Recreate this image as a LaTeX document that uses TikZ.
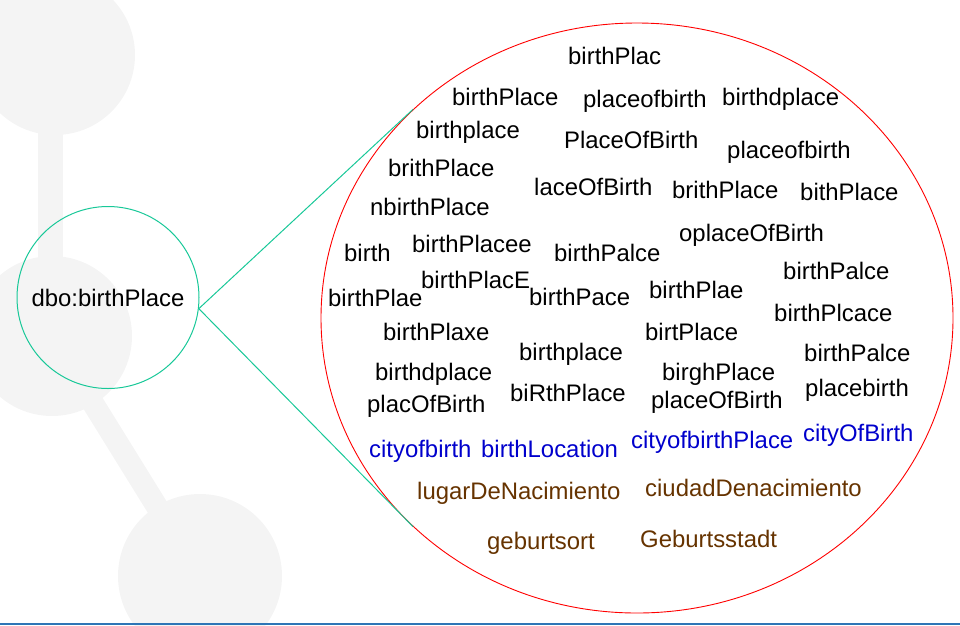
\documentclass[tikz,border=0pt]{standalone}
\usepackage{fontspec}
\setmainfont{Liberation Sans}
\usepackage{xcolor}
\usetikzlibrary{shapes.geometric, positioning}

\definecolor{bggray}{RGB}{244,244,244}
\definecolor{propteal}{RGB}{24,200,152}
\definecolor{cityblue}{RGB}{0,0,204}
\definecolor{spanbrown}{RGB}{102,51,0}
\definecolor{rulebl}{RGB}{46,117,182}

\begin{document}
\begin{tikzpicture}[x=1pt, y=-1pt,
        word/.style={anchor=base west, inner sep=0pt, font=\fontsize{23.9}{28}\selectfont},
        blueword/.style={word, text=cityblue},
        brownword/.style={word, text=spanbrown}]
    \useasboundingbox (0, 0) rectangle (960, 625);

    % background molecule
    \begin{scope}
        \clip (0, 0) rectangle (960, 625);
        \fill[bggray] (55, 55) circle (80);
        \fill[bggray] (52, 336) circle (80);
        \fill[bggray] (200, 576) circle (82);
        \draw[bggray, line width=25] (50, 100) -- (50, 300);
        \draw[bggray, line width=22] (60, 350) -- (190, 560);
    \end{scope}
    \draw[rulebl, line width=1.2] (0, 624) -- (960, 624);

    \node[circle, draw=propteal, line width=1, minimum size=182, inner sep=0pt,
          font=\fontsize{23.9}{28}\selectfont] (prop) at (108, 297.5) {dbo:birthPlace};
    \node[ellipse, draw=red, line width=0.9, minimum width=632, minimum height=590, inner sep=0pt] (cloud) at (637, 318) {};

    \draw[propteal, line width=1] (prop.-7) -- (cloud.137.5);
    \draw[propteal, line width=1] (prop.-7) -- (cloud.223);

    % variants of the label
    \node[word] (v1) at (568, 64.5) {birthPlac};
    \node[word] (v2) at (452, 105) {birthPlace};
    \node[word] (v3) at (583, 107) {placeofbirth};
    \node[word] (v4) at (722, 105) {birthdplace};
    \node[word] (v5) at (416, 138.5) {birthplace};
    \node[word] (v6) at (564, 148) {PlaceOfBirth};
    \node[word] (v7) at (727, 158) {placeofbirth};
    \node[word] (v8) at (388, 176) {brithPlace};
    \node[word] (v9) at (534, 195) {laceOfBirth};
    \node[word] (v10) at (672, 198) {brithPlace};
    \node[word] (v11) at (800, 200) {bithPlace};
    \node[word] (v12) at (370, 215) {nbirthPlace};
    \node[word] (v13) at (679, 241.5) {oplaceOfBirth};
    \node[word] (v14) at (344, 261.5) {birth};
    \node[word] (v15) at (412, 252) {birthPlacee};
    \node[word] (v16) at (554, 261.5) {birthPalce};
    \node[word] (v17) at (783, 279) {birthPalce};
    \node[word] (v18) at (421, 288) {birthPlacE};
    \node[word] (v19) at (328, 306) {birthPlae};
    \node[word] (v20) at (529, 305) {birthPace};
    \node[word] (v21) at (649, 298) {birthPlae};
    \node[word] (v22) at (774, 321.5) {birthPlcace};
    \node[word] (v23) at (383, 340.5) {birthPlaxe};
    \node[word] (v24) at (645, 340) {birtPlace};
    \node[word] (v25) at (519, 360.5) {birthplace};
    \node[word] (v26) at (804, 361.5) {birthPalce};
    \node[word] (v27) at (375, 380.5) {birthdplace};
    \node[word] (v28) at (662, 380) {birghPlace};
    \node[word] (v29) at (510, 401.5) {biRthPlace};
    \node[word] (v30) at (805, 396) {placebirth};
    \node[word] (v31) at (367, 412.5) {placOfBirth};
    \node[word] (v32) at (651, 408) {placeOfBirth};

    \node[blueword] (c1) at (369, 457) {cityofbirth};
    \node[blueword] (c2) at (481, 457) {birthLocation};
    \node[blueword] (c3) at (631, 448) {cityofbirthPlace};
    \node[blueword] (c4) at (803, 441) {cityOfBirth};

    \node[brownword] (s1) at (417, 499) {lugarDeNacimiento};
    \node[brownword] (s2) at (645, 496) {ciudadDenacimiento};
    \node[brownword] (g1) at (487, 549) {geburtsort};
    \node[brownword] (g2) at (640, 547.5) {Geburtsstadt};
\end{tikzpicture}
\end{document}
